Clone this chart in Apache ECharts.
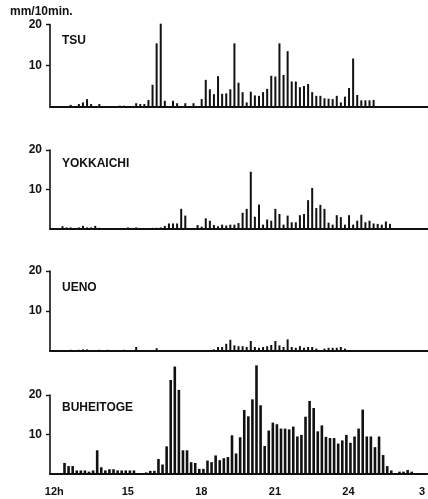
<!DOCTYPE html>
<html>
<head>
<meta charset="utf-8">
<script src="https://cdn.jsdelivr.net/npm/echarts@6/dist/echarts.min.js"></script>
<style>
  html, body { margin: 0; padding: 0; background: #fff; }
  #chart { width: 428px; height: 499px; }
</style>
</head>
<body>
<div id="chart"></div>
<script>
// rainfall, mm per 10 minutes, one value per 10-minute slot starting at 12h
const stations = ['TSU', 'YOKKAICHI', 'UENO', 'BUHEITOGE'];

const tsu = [
  0,0,0,0,0.4,0,0.6,1.0,1.8,0.6,
  0,0.6,0,0,0,0,0.2,0.2,0,0,
  0.8,0.6,0.6,1.6,5.3,15.4,20.2,1.4,0,1.4,
  0.8,0,0.8,0,0.8,0,1.8,6.5,4.2,3.0,
  7.4,3.1,3.2,4.2,15.4,5.8,3.5,1.0,3.6,2.7,
  2.6,3.5,4.3,7.5,7.3,15.4,7.7,13.5,6.1,6.1,
  4.7,5.0,5.5,3.5,2.6,2.6,2.0,1.9,1.8,2.6,
  1.0,2.4,4.5,11.7,2.8,1.5,1.5,1.5,1.6,0,
  0,0,0,0,0,0,0,0,0,0
];
const yokkaichi = [
  0,0,0.7,0.4,0.4,0,0.4,0.8,0.4,0.4,
  0.8,0.3,0,0,0,0,0,0,0.4,0,
  0.4,0,0,0,0.3,0.3,0.4,0.8,1.4,1.4,
  1.4,5.1,3.4,0,0,1.0,0.6,2.7,2.1,1.0,
  0.7,1.1,0.9,1.1,1.1,1.5,4.1,5.1,14.5,3.1,
  6.2,1.1,2.4,2.1,5.1,3.8,1.1,3.4,1.7,1.7,
  3.5,3.8,7.3,10.4,5.3,6.1,5.1,1.6,1.1,3.5,
  3.0,1.1,3.5,1.1,2.1,3.6,1.7,2.1,1.4,1.3,
  1.1,1.9,1.3,0,0,0,0,0,0,0
];
const ueno = [
  0,0,0,0,0.3,0,0.3,0.4,0.4,0,
  0,0.3,0,0.3,0,0,0,0.3,0,0,
  1.0,0,0,0,0,0.7,0,0,0,0,
  0,0,0,0,0,0,0,0,0,0.4,
  1.0,1.0,1.8,2.8,1.4,1.2,1.2,1.0,2.5,1.0,
  0.8,1.0,1.2,1.5,2.5,1.4,1.0,2.9,1.0,0.8,
  1.2,0.8,1.0,1.0,0.6,0,0.6,0.8,0.8,0.8,
  1.0,0.6,0,0,0,0,0,0,0,0,
  0,0,0,0,0,0,0,0,0,0
];
const buheitoge = [
  0,0,2.8,2.0,2.0,0.9,0.9,0.9,0.6,0.9,
  6.0,1.7,0.9,1.2,1.2,0.9,0.9,0.9,0.9,0.9,
  0,0,0.4,0.8,0.8,3.8,2.4,7.0,23.8,27.2,
  21.3,6.0,6.0,3.0,2.8,1.3,1.3,3.4,3.0,4.7,
  3.5,4.0,4.3,9.8,5.2,9.3,16.2,14.6,18.9,27.5,
  17.4,7.1,11.0,13.0,12.6,11.5,11.5,11.3,12.0,9.5,
  9.9,14.5,18.5,16.7,10.8,12.3,9.4,9.1,9.1,7.7,
  8.5,9.9,7.9,9.5,11.5,16.3,9.5,9.5,6.8,9.5,
  4.8,2.0,0.9,0,0.6,0.6,1.0,0.6,0,0
];
const seriesValues = [tsu, yokkaichi, ueno, buheitoge];

const startHour = 12;
const yTicks = [10, 20];
const xTickHours = [12, 15, 18, 21, 24, 27];
const xTickLabels = ['12h', '15', '18', '21', '24', '3'];
const unitLabel = 'mm/10min.';

// layout
const gridTops = [24.5, 150, 271, 395];
const gridHeights = [82, 79, 80, 79];
const barPhase = [0, 0, 0, 0.5];
const barWidths = [2, 2, 2, 2.6];
const nameY = [41, 164, 288, 408];
const FONT = 'Liberation Sans, Arial, sans-serif';
const INK = '#111';

const chart = echarts.init(document.getElementById('chart'), null, { renderer: 'canvas' });

const grids = [], xAxes = [], yAxes = [], series = [];
stations.forEach((name, k) => {
  grids.push({ left: 50, right: 0, top: gridTops[k], height: gridHeights[k] });
  const isBottom = k === stations.length - 1;
  xAxes.push({
    type: 'value', gridIndex: k, min: 11.825, max: 27.215,
    axisLine: { show: true, lineStyle: { color: INK, width: 2 } },
    axisTick: { show: false },
    splitLine: { show: false },
    axisLabel: {
      show: isBottom,
      customValues: xTickHours,
      formatter: v => xTickLabels[xTickHours.indexOf(v)] || '',
      color: INK, fontFamily: FONT, fontWeight: 'bold', fontSize: 11, margin: 12
    }
  });
  yAxes.push({
    type: 'value', gridIndex: k, min: 0, max: 20, interval: 10,
    axisLine: { show: true, lineStyle: { color: INK, width: 1.6 } },
    axisTick: { show: true, length: 4, lineStyle: { color: INK, width: 1.4 }, customValues: yTicks },
    splitLine: { show: false },
    axisLabel: {
      customValues: yTicks,
      color: INK, fontFamily: FONT, fontWeight: 'bold', fontSize: 12, margin: 8
    }
  });
  const vals = seriesValues[k];
  const data = [];
  vals.forEach((v, i) => {
    if (v > 0) data.push([startHour + (i + barPhase[k]) / 6, v]);
  });
  series.push({
    type: 'bar', xAxisIndex: k, yAxisIndex: k, data: data,
    barWidth: barWidths[k], clip: false, silent: true,
    itemStyle: { color: INK },
    animation: false
  });
});

const graphic = [
  { type: 'text', left: 10, top: 6, style: { text: unitLabel, font: 'bold 12px ' + FONT, fill: INK } }
];
stations.forEach((name, k) => {
  graphic.push({
    type: 'text', x: 62, y: nameY[k],
    style: { text: name, font: 'bold 12px ' + FONT, fill: INK, textVerticalAlign: 'middle', verticalAlign: 'middle' }
  });
});

chart.setOption({
  backgroundColor: '#fff',
  animation: false,
  grid: grids,
  xAxis: xAxes,
  yAxis: yAxes,
  series: series,
  graphic: graphic
});
</script>
</body>
</html>
